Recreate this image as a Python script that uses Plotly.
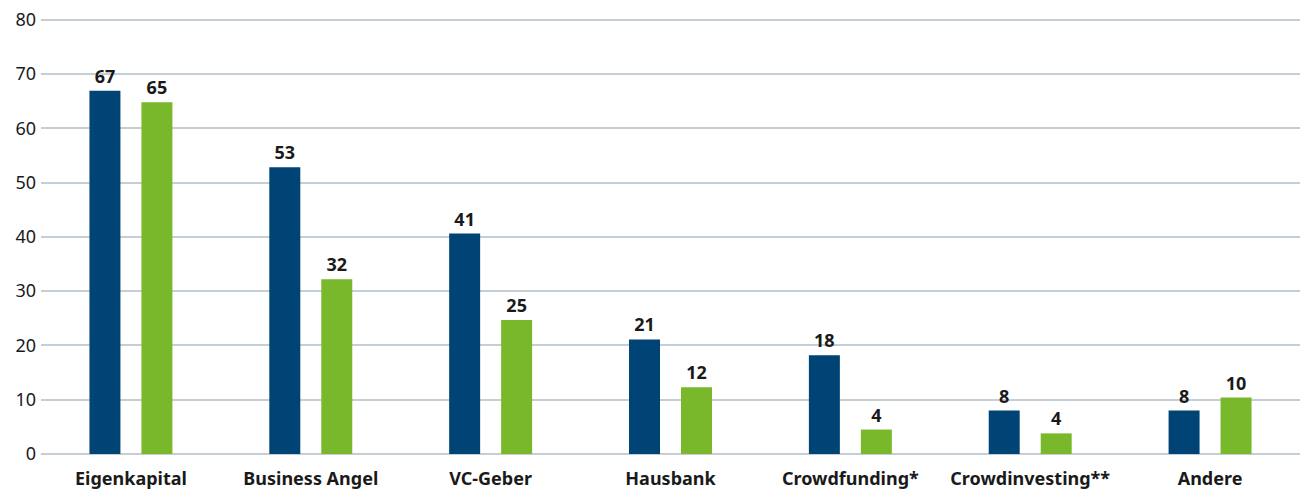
import plotly.graph_objects as go

categories = ["Eigenkapital", "Business Angel", "VC-Geber", "Hausbank",
              "Crowdfunding*", "Crowdinvesting**", "Andere"]
series_a_values = [66.9, 52.8, 40.6, 21.1, 18.2, 8.0, 8.0]
series_a_labels = ["67", "53", "41", "21", "18", "8", "8"]
series_b_values = [64.8, 32.2, 24.7, 12.3, 4.5, 3.8, 10.4]
series_b_labels = ["65", "32", "25", "12", "4", "4", "10"]
y_ticks = [0, 10, 20, 30, 40, 50, 60, 70, 80]

FONT = "Noto Sans"
TEXT = "#1a1a1a"

fig = go.Figure()
fig.add_trace(go.Bar(
    x=categories, y=series_a_values, text=series_a_labels, name="Serie A",
    marker=dict(color="#004375", line=dict(width=0)),
    textposition="outside", cliponaxis=False,
    textfont=dict(family=FONT, size=18, color=TEXT, weight="bold"),
))
fig.add_trace(go.Bar(
    x=categories, y=series_b_values, text=series_b_labels, name="Serie B",
    marker=dict(color="#79b82a", line=dict(width=0)),
    textposition="outside", cliponaxis=False,
    textfont=dict(family=FONT, size=18, color=TEXT, weight="bold"),
))

fig.update_layout(
    width=1300, height=492,
    margin=dict(l=41, r=0, t=18, b=38),
    barmode="group", bargap=0.422, bargroupgap=0.404,
    showlegend=False,
    plot_bgcolor="white", paper_bgcolor="white",
    font=dict(family=FONT, size=18, color=TEXT),
    uniformtext=dict(mode=False),
)
fig.update_xaxes(
    showgrid=False, showline=False, ticks="", automargin=False,
    ticklabelstandoff=12,
    tickfont=dict(family=FONT, size=18, color=TEXT, weight="bold"),
)
fig.update_yaxes(
    range=[0, 80.3], tickvals=y_ticks, showgrid=True, gridcolor="#c5ced5",
    gridwidth=1.5, zeroline=True, zerolinecolor="#c5ced5", zerolinewidth=1.5,
    showline=False, ticks="", ticklabelstandoff=4, automargin=False,
    tickfont=dict(family=FONT, size=18, color=TEXT),
)

fig.write_html(
    "out.html",
    config={"displayModeBar": False},
    post_script="document.body.style.margin='0';document.body.style.overflow='hidden';",
)
